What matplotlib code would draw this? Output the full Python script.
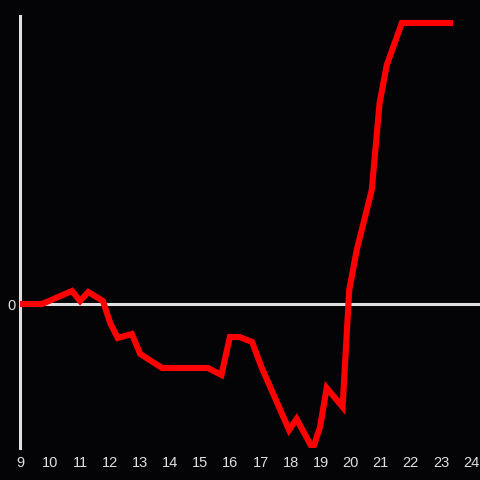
import matplotlib
matplotlib.use("Agg")
import matplotlib.pyplot as plt

x_vals = [9.0, 9.73, 10.73, 11.0, 11.27, 11.76, 12.0, 12.25, 12.72, 13.0, 13.73,
          15.25, 15.7, 15.98, 16.3, 16.72, 17.03, 17.95, 18.2, 18.74, 18.98, 19.2,
          19.73, 19.95, 20.2, 20.7, 20.96, 21.2, 21.7, 23.3]
y_vals = [0, 0, 13, 3, 12, 3, -19, -34, -30, -50, -64,
          -64, -71, -33, -33, -38, -63, -126, -115, -145, -123, -84,
          -103, 14, 54, 114, 201, 239, 281, 281]
x_ticks = list(range(9, 25))
y_ticks = [0]

bg = "#040306"
fg = "#e0e0e0"

fig = plt.figure(figsize=(4.8, 4.8), dpi=100, facecolor=bg)
ax = fig.add_axes([20/480, 32/480, 460/480, 432/480], facecolor=bg)
ax.plot(x_vals, y_vals, color="#ff0000", lw=4.4, solid_joinstyle="miter", zorder=3)
ax.axhline(0, color=fg, lw=2.2, zorder=2)
ax.set_xlim(9, 24.3)
ax.set_ylim(-144, 288)
for s in ["top", "right", "bottom"]:
    ax.spines[s].set_visible(False)
ax.spines["left"].set_color(fg)
ax.spines["left"].set_linewidth(2.2)
ax.set_xticks(x_ticks)
ax.set_xticklabels([str(t) for t in x_ticks])
ax.set_yticks(y_ticks)
ax.set_yticklabels(["0"])
ax.tick_params(axis="both", length=0, colors=fg, labelsize=10.5)
ax.tick_params(axis="x", pad=6)
ax.tick_params(axis="y", pad=3)
for lab in ax.get_xticklabels() + ax.get_yticklabels():
    lab.set_fontfamily("Liberation Sans")
fig.savefig("out.png", dpi=100, facecolor=bg)
